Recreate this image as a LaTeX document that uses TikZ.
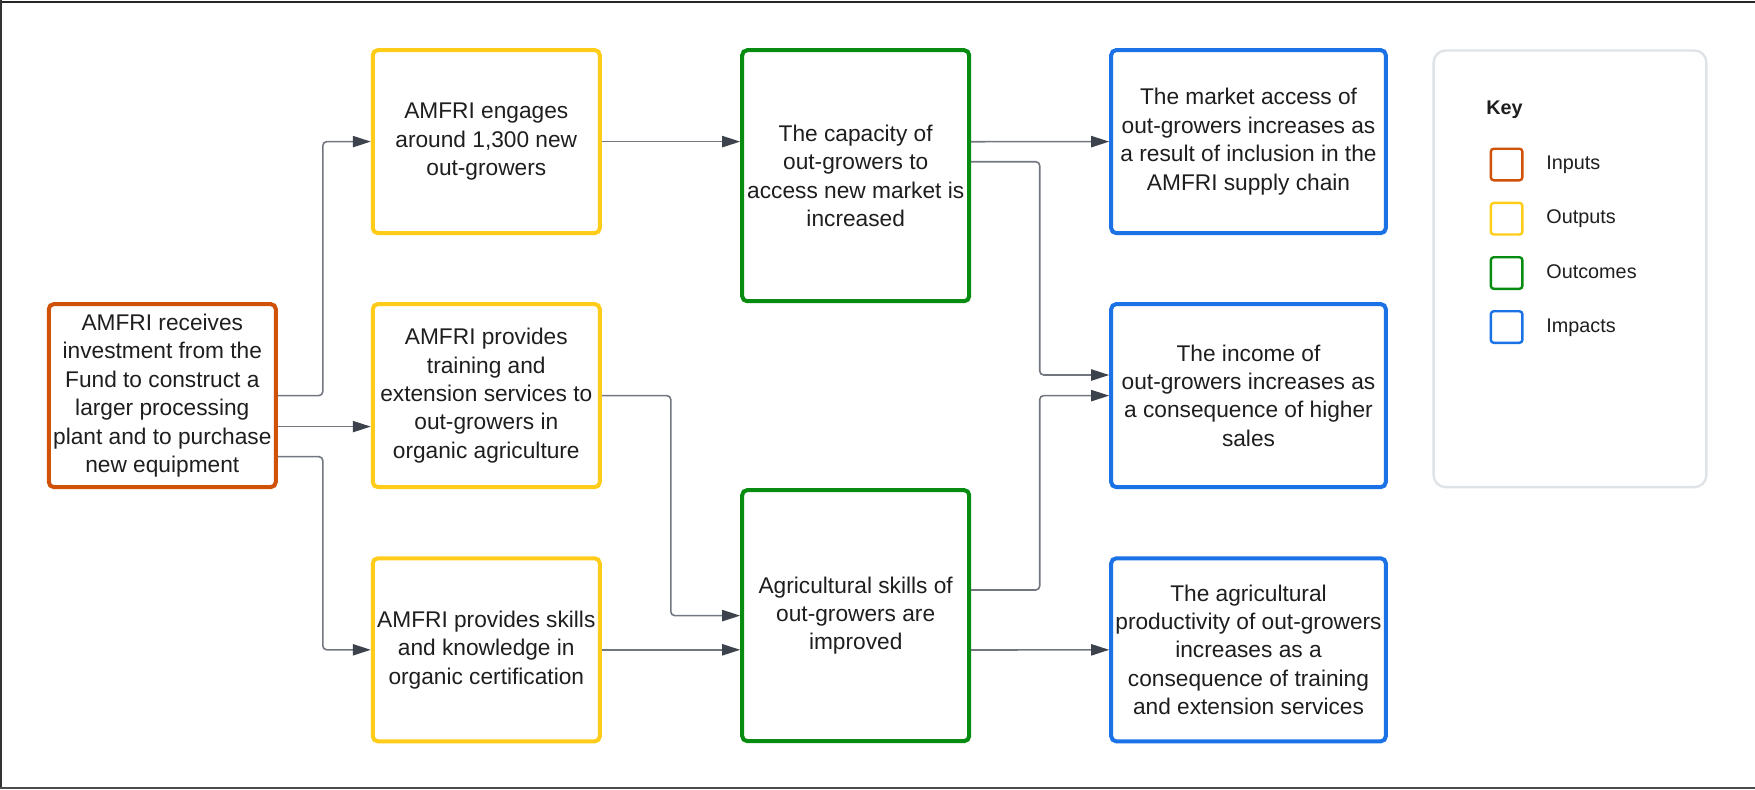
\documentclass[tikz,border=0pt]{standalone}
\usepackage{fontspec}
\setmainfont{Liberation Sans}
\usetikzlibrary{arrows.meta}
\definecolor{inpcol}{HTML}{CF5208}
\definecolor{outcol}{HTML}{FFCC1A}
\definecolor{occol}{HTML}{078B10}
\definecolor{impcol}{HTML}{1A72E6}
\definecolor{keycol}{HTML}{DFE3E8}
\definecolor{linecol}{HTML}{72777F}
\definecolor{tipcol}{HTML}{3D434C}
\definecolor{txtcol}{HTML}{1E1E1E}
\begin{document}
\begin{tikzpicture}[x=0.5pt,y=-0.5pt,
    box/.style={draw,line width=2pt,rounded corners=2.5pt,align=center,text=txtcol,inner sep=0pt,
        font=\fontsize{11.35}{14.2}\selectfont,minimum width=113.5pt,minimum height=91.5pt},
    conn/.style={draw=linecol,line width=0.8pt,rounded corners=2pt,
        -{Triangle[length=9pt,width=5.6pt,color=tipcol]}},
    keysq/.style={draw,line width=1.2pt,rounded corners=1.5pt,minimum size=15.8pt,inner sep=0pt},
    keylab/.style={anchor=base west,inner sep=0pt,text=txtcol,font=\fontsize{9.9}{12}\selectfont}]
    \useasboundingbox (0,0) rectangle (1755,789);
    \draw[line width=1.4pt,black!85] (0,2) -- (1755,2);
    \draw[line width=0.8pt,black!80] (1,0) -- (1,789);
    \draw[line width=1pt,black!70] (0,788) -- (1755,788);

    \node[box,draw=inpcol] (inp) at (162.3,395.6) {AMFRI receives\\investment from the\\Fund to construct a\\larger processing\\plant and to purchase\\new equipment};

    \node[box,draw=outcol] (out1) at (486.3,141.6) {AMFRI engages\\around 1,300 new\\out-growers};
    \node[box,draw=outcol] (out2) at (486.3,395.6) {AMFRI provides\\training and\\extension services to\\out-growers in\\organic agriculture};
    \node[box,draw=outcol] (out3) at (486.3,649.8) {AMFRI provides skills\\and knowledge in\\organic certification};

    \node[box,draw=occol,minimum height=125.5pt] (oc1) at (855.7,175.7) {The capacity of\\out-growers to\\access new market is\\increased};
    \node[box,draw=occol,minimum height=125.5pt] (oc2) at (855.7,615.6) {Agricultural skills of\\out-growers are\\improved};

    \node[box,draw=impcol,minimum width=137.3pt] (imp1) at (1248.5,141.6) {The market access of\\out-growers increases as\\a result of inclusion in the\\AMFRI supply chain};
    \node[box,draw=impcol,minimum width=137.3pt] (imp2) at (1248.5,395.6) {The income of\\out-growers increases as\\a consequence of higher\\sales};
    \node[box,draw=impcol,minimum width=137.3pt] (imp3) at (1248.5,649.8) {The agricultural\\productivity of out-growers\\increases as a\\consequence of training\\and extension services};

    \draw[conn] (inp.east) -- ++(45,0) |- (out1);
    \draw[conn] ([yshift=-15.5pt]inp.east) -- ([yshift=-15.5pt]out2.west);
    \draw[conn] ([yshift=-30.5pt]inp.east) -- ++(45,0) |- (out3);

    \draw[conn] (out1.east) -- (out1.east -| oc1.west);
    \draw[conn] (out2.east) -- ++(69,0) |- (oc2);
    \draw[conn] (out3.east) -- (out3.east -| oc2.west);

    \draw[conn] ([yshift=17pt]oc1.east) -- (imp1.west);
    \draw[conn] ([yshift=7pt]oc1.east) -- ++(68.5,0) |- ([yshift=10.3pt]imp2.west);
    \draw[conn] ([yshift=12.8pt]oc2.east) -- ++(68.5,0) |- (imp2);
    \draw[conn] ([yshift=-17.2pt]oc2.east) -- (imp3.west);

    \node[draw=keycol,line width=1.2pt,rounded corners=6pt,minimum width=136.4pt,minimum height=218.3pt] (key) at (1570,268.8) {};
    \node[anchor=base west,inner sep=0pt,text=txtcol,font=\fontsize{9.9}{12}\selectfont\bfseries] (keyt) at (1486,114) {Key};
    \node[keysq,draw=inpcol] (kinp) at (1506.6,164.5) {};
    \node[keysq,draw=outcol] (kout) at (1506.6,218.7) {};
    \node[keysq,draw=occol] (koc) at (1506.6,273) {};
    \node[keysq,draw=impcol] (kimp) at (1506.6,327) {};
    \node[keylab] (kinpl) at (1546,169.5) {Inputs};
    \node[keylab] (koutl) at (1546,223.7) {Outputs};
    \node[keylab] (kocl) at (1546,278) {Outcomes};
    \node[keylab] (kimpl) at (1546,332) {Impacts};
\end{tikzpicture}
\end{document}
